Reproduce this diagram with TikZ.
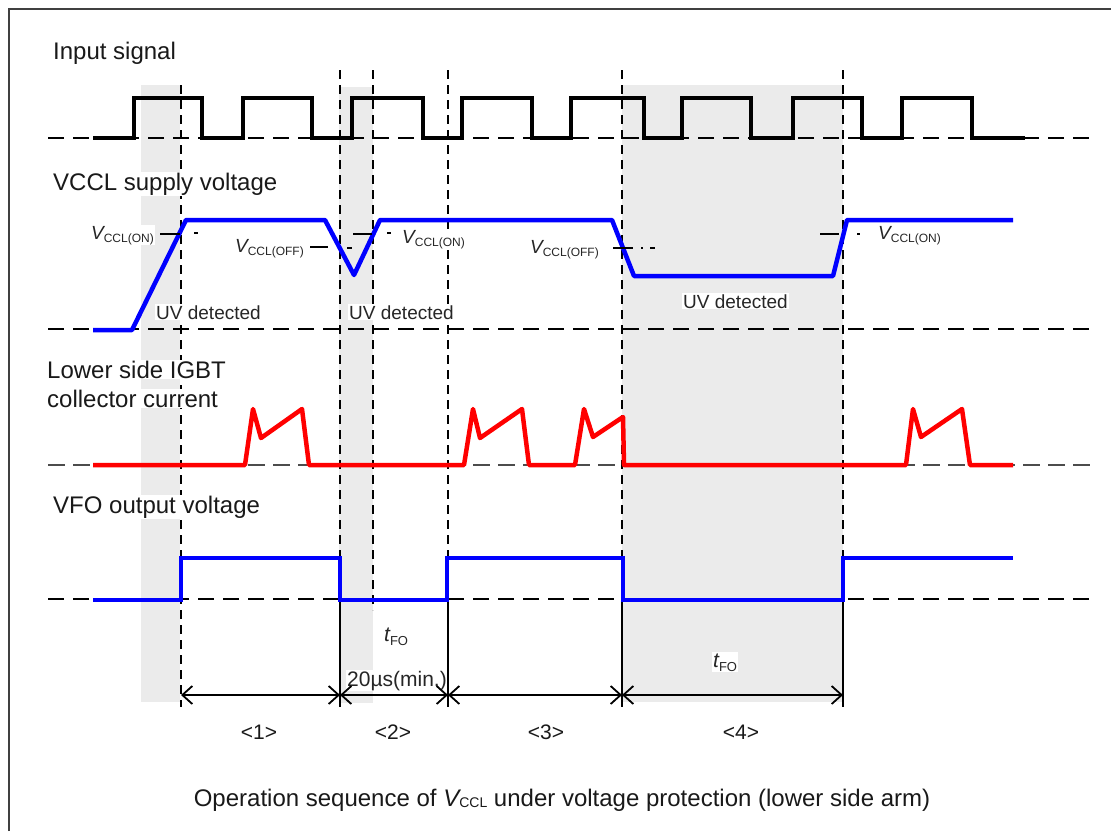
\documentclass[tikz,border=0pt]{standalone}
\usepackage{fontspec}
\setmainfont{Liberation Sans}
\usetikzlibrary{arrows.meta}
\newcommand{\VccLbl}[1]{{\fontsize{19}{22}\selectfont\itshape V}\raisebox{-3pt}{\fontsize{12}{14}\selectfont #1}}
\newcommand{\tFOlbl}{{\fontsize{21}{22}\selectfont\itshape t}\raisebox{-4pt}{\fontsize{13}{14}\selectfont FO}}
\tikzset{
  basedash/.style={line width=1.8pt, dash pattern=on 16pt off 9pt, black},
  finedash/.style={line width=1.2pt, dash pattern=on 17pt off 8pt, black!70},
  vdash/.style={line width=1.8pt, dash pattern=on 9pt off 6pt, black},
  vsolid/.style={line width=1.6pt, black},
  shadebox/.style={fill=black!8},
  insig/.style={line width=4.2pt, black, line join=miter},
  bluesig/.style={line width=4.5pt, blue, line join=round},
  redsig/.style={line width=4.5pt, red, line join=round},
  seclabel/.style={font=\fontsize{24}{28}\selectfont, text=black!90, fill=white, inner sep=1pt, anchor=base west},
  uvlabel/.style={font=\fontsize{19}{22}\selectfont, text=black!85, fill=white, inner sep=1pt, anchor=base west},
  vlabel/.style={text=black!85, fill=white, inner sep=1pt},
  ticksty/.style={line width=1.8pt, black},
  dimarrow/.style={line width=1.8pt, {Straight Barb[length=10pt,width=18pt]}-{Straight Barb[length=10pt,width=18pt]}},
  numlabel/.style={font=\fontsize{21}{23}\selectfont, text=black!90},
}
\begin{document}
\begin{tikzpicture}[x=1pt, y=-1pt]
\useasboundingbox (0,0) rectangle (1111,831);
% frame
\draw[line width=1.5pt, black!75] (9,831) -- (9,9) -- (1111,9);
% shaded regions
\fill[shadebox] (141,85) rectangle (180,702);
\fill[shadebox] (339,87) rectangle (373,703);
\fill[shadebox] (622,85) rectangle (843,702);
% label under the marker lines
\node[vlabel, anchor=base west, font=\fontsize{21}{23}\selectfont] (min20) at (346,686) {20µs(min.)};
% baselines
\draw[basedash] (48,138) -- (1092,138);
\draw[basedash] (48,329) -- (1092,329);
\draw[finedash] (48,465) -- (1092,465);
\draw[basedash] (48,599) -- (1092,599);
% vertical markers
\coordinate (b1) at (181,695);
\coordinate (b2) at (340,695);
\coordinate (b3) at (448,695);
\coordinate (b4) at (622,695);
\coordinate (b5) at (843,695);
\draw[vdash] (181,85) -- (181,707);
\draw[vdash] (340,70) -- (340,600);
\draw[vsolid] (340,600) -- (340,707);
\draw[vdash] (373,70) -- (373,610);
\draw[vdash] (448,70) -- (448,600);
\draw[vsolid] (448,600) -- (448,707);
\draw[vdash] (622,70) -- (622,600);
\draw[vsolid] (622,600) -- (622,707);
\draw[vdash] (843,70) -- (843,600);
\draw[vsolid] (843,600) -- (843,707);
% input signal
\draw[insig] (93,138) -- (134,138) -- (134,98) -- (202,98) -- (202,138) -- (243,138) -- (243,98) -- (312,98) -- (312,138) -- (352,138) -- (352,98) -- (423,98) -- (423,138) -- (462,138) -- (462,98) -- (532,98) -- (532,138) -- (571,138) -- (571,98) -- (644,98) -- (644,138) -- (682,138) -- (682,98) -- (751,98) -- (751,138) -- (793,138) -- (793,98) -- (862,98) -- (862,138) -- (902,138) -- (902,98) -- (972,98) -- (972,138) -- (1025,138);
% VCCL supply
\draw[bluesig] (93,330) -- (132,330) -- (186,220) -- (325,220) -- (354,275) -- (380,220) -- (612,220) -- (634,276) -- (833,276) -- (847,220) -- (1013,220);
% threshold ticks
\draw[ticksty] (160,234) -- (180,234);
\draw[ticksty] (194,233) -- (198,233);
\draw[ticksty] (310,247) -- (328,247);
\draw[ticksty] (347,248) -- (352,248);
\draw[ticksty] (353,234) -- (372,234);
\draw[ticksty] (387,233) -- (391,233);
\draw[ticksty] (613,248) -- (633,248);
\draw[ticksty] (641,248) -- (643,248);
\draw[ticksty] (650,248) -- (655,248);
\draw[ticksty] (820,234) -- (839,234);
\draw[ticksty] (857,234) -- (860,234);
% collector current
\draw[redsig] (93,465) -- (245,465) -- (253,409) -- (261,438) -- (302,409) -- (309,465) -- (464,465) -- (473,409) -- (480,438) -- (522,409) -- (529,465) -- (575,465) -- (584,409) -- (593,437) -- (623,417) -- (624,465) -- (906,465) -- (913,409) -- (921,437) -- (962,409) -- (970,465) -- (1013,465);
% VFO output
\draw[bluesig, line join=miter] (93,600) -- (181,600) -- (181,558) -- (340,558) -- (340,600) -- (447,600) -- (447,558) -- (623,558) -- (623,600) -- (843,600) -- (843,558) -- (1013,558);
% dimension arrows
\draw[dimarrow] (b1) -- (b2);
\draw[dimarrow] (b2) -- (b3);
\draw[dimarrow] (b3) -- (b4);
\draw[dimarrow] (b4) -- (b5);
% section labels
\node[seclabel] (lin) at (52,59) {Input signal};
\node[seclabel] (lvcc) at (52,190) {VCCL supply voltage};
\node[seclabel] (ligbt1) at (46,378) {Lower side IGBT};
\node[seclabel] (ligbt2) at (46,407) {collector current};
\node[seclabel] (lvfo) at (52,513) {VFO output voltage};
% UV detected
\node[uvlabel] (uv1) at (155,319) {UV detected};
\node[uvlabel] (uv2) at (348,319) {UV detected};
\node[uvlabel] (uv3) at (682,308) {UV detected};
% threshold labels
\node[vlabel, anchor=base east] (von1) at (155,239) {\VccLbl{CCL(ON)}};
\node[vlabel, anchor=base east] (voff1) at (305,252) {\VccLbl{CCL(OFF)}};
\node[vlabel, anchor=base west] (von2) at (401,243) {\VccLbl{CCL(ON)}};
\node[vlabel, anchor=base east] (voff2) at (600,253) {\VccLbl{CCL(OFF)}};
\node[vlabel, anchor=base west] (von3) at (877,239) {\VccLbl{CCL(ON)}};
% tFO labels
\node[vlabel, anchor=base west] (tfo1) at (383,641) {\tFOlbl};
\node[vlabel, anchor=base west] (tfo2) at (712,667) {\tFOlbl};
% interval labels
\node[numlabel] (n1) at (259,732) {<1>};
\node[numlabel] (n2) at (393,732) {<2>};
\node[numlabel] (n3) at (546,732) {<3>};
\node[numlabel] (n4) at (741,732) {<4>};
% caption
\node[font=\fontsize{24}{28}\selectfont, text=black!90] (cap) at (562,800) {Operation sequence of {\itshape V}\raisebox{-1pt}{\fontsize{14}{15}\selectfont CCL} under voltage protection (lower side arm)};
\end{tikzpicture}
\end{document}
